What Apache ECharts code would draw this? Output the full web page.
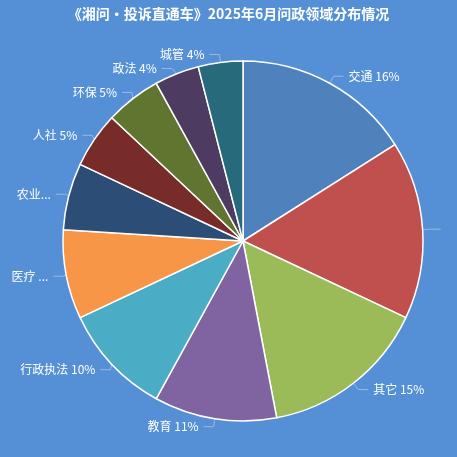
<!DOCTYPE html>
<html><head><meta charset="utf-8">
<script src="https://cdn.jsdelivr.net/npm/echarts@6/dist/echarts.min.js"></script>
<style>html,body{margin:0;padding:0;background:#5590d6}#main{width:457px;height:457px}</style>
</head><body><div id="main"></div>
<script>
var names = ['交通', '住建', '其它', '教育', '行政执法', '医疗', '农业农村', '人社', '环保', '政法', '城管'];
var values = [16, 16, 15, 11, 10, 8, 6, 5, 5, 4, 4];
var colors = ['#4f81bd', '#c0504d', '#9bbb59', '#8064a2', '#4bacc6', '#f79646', '#2c4d75', '#772c2a', '#5f7530', '#4d3b62', '#276a7c'];

var myChart = echarts.init(document.getElementById('main'));
var option = {
    backgroundColor: '#5590d6',
    title: {
        text: '《湘问•投诉直通车》2025年6月问政领域分布情况',
        left: 'center',
        top: 2,
        textStyle: { color: '#fff', fontSize: 14, fontWeight: 'bold', fontFamily: 'Noto Sans CJK SC' }
    },
    series: [{
        type: 'pie',
        center: [243, 241],
        radius: 180,
        startAngle: 90,
        clockwise: true,
        color: colors,
        itemStyle: { borderColor: '#fff', borderWidth: 1.5 },
        label: {
            color: '#fff',
            fontSize: 12,
            fontFamily: 'Noto Sans CJK SC',
            formatter: '{b} {c}%'
        },
        labelLine: { length: 8, length2: 10, lineStyle: { color: '#9ab8dd' } },
        data: names.map(function (n, i) { return { name: n, value: values[i] }; })
    }]
};
myChart.setOption(option);
</script></body></html>
